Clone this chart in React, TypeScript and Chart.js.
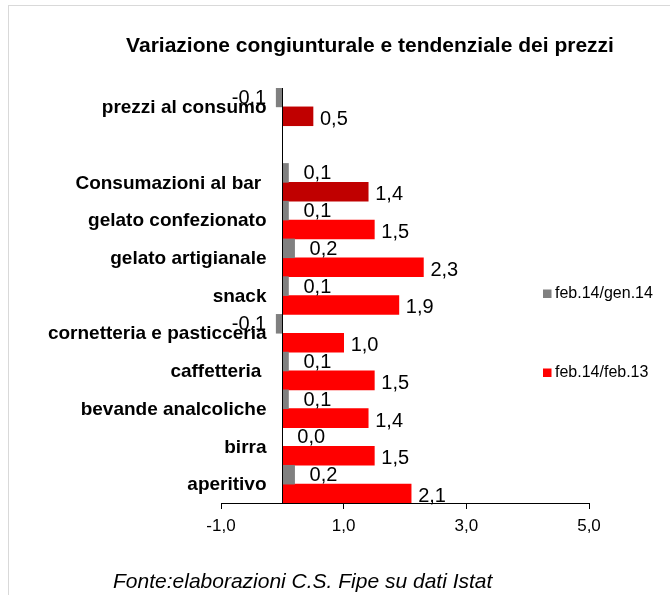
import React, { useEffect, useRef } from "react";
import { Chart, registerables } from "chart.js";

Chart.register(...registerables);

const chartTitle = "Variazione congiunturale e tendenziale dei prezzi";
const sourceNote = "Fonte:elaborazioni C.S. Fipe su dati Istat";
const categories = [
  "prezzi al consumo",
  "",
  "Consumazioni al bar ",
  "gelato confezionato",
  "gelato artigianale",
  "snack",
  "cornetteria e pasticceria",
  "caffetteria ",
  "bevande analcoliche",
  "birra",
  "aperitivo",
];
const seriesNames = ["feb.14/gen.14", "feb.14/feb.13"];
const congiunturale = [-0.1, null, 0.1, 0.1, 0.2, 0.1, -0.1, 0.1, 0.1, 0.0, 0.2];
const tendenziale = [0.5, null, 1.4, 1.5, 2.3, 1.9, 1.0, 1.5, 1.4, 1.5, 2.1];
const aggregateRows = ["prezzi al consumo", "Consumazioni al bar "];
const xMin = -1;
const xMax = 5;
const xStep = 2;

const GRAY = "#808080";
const RED = "#FF0000";
const DARK_RED = "#C00000";
const FONT = '"Liberation Sans", Arial, sans-serif';

const fmt = (v: number) => v.toFixed(1).replace(".", ",");

const overlay = {
  id: "overlay",
  afterDatasetsDraw(chart: any) {
    const { ctx, chartArea, scales } = chart;
    const xs = scales.x;
    const ys = scales.y;
    ctx.save();
    // zero line
    const x0 = Math.round(xs.getPixelForValue(0)) + 0.5;
    ctx.strokeStyle = "#000";
    ctx.lineWidth = 1;
    ctx.beginPath();
    ctx.moveTo(x0, chartArea.top);
    ctx.lineTo(x0, chartArea.bottom);
    ctx.stroke();

    // category labels
    ctx.font = `bold 19px ${FONT}`;
    ctx.fillStyle = "#000";
    ctx.textAlign = "right";
    ctx.textBaseline = "middle";
    categories.forEach((c, i) => {
      if (c) ctx.fillText(c, x0 - 16, ys.getPixelForValue(i) + 1);
    });

    // data labels
    ctx.font = `20px ${FONT}`;
    chart.data.datasets.forEach((ds: any, di: number) => {
      const meta = chart.getDatasetMeta(di);
      meta.data.forEach((el: any, i: number) => {
        const v = ds.data[i];
        if (v == null) return;
        const txt = fmt(v);
        if (di === 0) {
          if (v < 0) {
            ctx.textAlign = "right";
            ctx.fillText(txt, el.x - 10, el.y + 1);
          } else {
            ctx.textAlign = "left";
            ctx.fillText(txt, el.x + 15, el.y + 1);
          }
        } else {
          ctx.textAlign = "left";
          ctx.fillText(txt, el.x + 7, el.y + 3);
        }
      });
    });
    ctx.restore();
  },
  afterDraw(chart: any) {
    const { ctx } = chart;
    ctx.save();
    // title
    ctx.fillStyle = "#000";
    ctx.font = `bold 21px ${FONT}`;
    ctx.textAlign = "center";
    ctx.textBaseline = "alphabetic";
    ctx.fillText(chartTitle, 370, 51.5);

    // legend
    const legendColors = [GRAY, RED];
    const legendY = [294, 373];
    ctx.font = `16px ${FONT}`;
    ctx.textAlign = "left";
    ctx.textBaseline = "middle";
    seriesNames.forEach((n, i) => {
      ctx.fillStyle = legendColors[i];
      ctx.fillRect(543, legendY[i] - 4.5, 8.5, 8.5);
      ctx.fillStyle = "#000";
      ctx.fillText(n, 555, legendY[i]);
    });

    // source
    ctx.font = `italic 21px ${FONT}`;
    ctx.textBaseline = "alphabetic";
    ctx.fillText(sourceNote, 113, 588);
    ctx.restore();
  },
};

export default function App() {
  const ref = useRef<HTMLCanvasElement | null>(null);
  useEffect(() => {
    if (!ref.current) return;
    const chart = new Chart(ref.current, {
      type: "bar",
      data: {
        labels: categories,
        datasets: [
          {
            label: seriesNames[0],
            data: congiunturale as any,
            backgroundColor: GRAY,
            borderWidth: 0,
            barPercentage: 1,
            categoryPercentage: 1,
          },
          {
            label: seriesNames[1],
            data: tendenziale as any,
            backgroundColor: (c: any) =>
              aggregateRows.includes(categories[c.dataIndex]) ? DARK_RED : RED,
            borderWidth: 0,
            barPercentage: 1,
            categoryPercentage: 1,
          },
        ],
      },
      options: {
        indexAxis: "y",
        responsive: false,
        animation: false,
        devicePixelRatio: 1,
        layout: { padding: { left: 221, right: 81, top: 88, bottom: 52 } },
        plugins: {
          legend: { display: false },
          title: { display: false },
          tooltip: { enabled: false },
        },
        scales: {
          x: {
            min: xMin,
            max: xMax,
            afterFit: (s: any) => {
              s.height = 40;
            },
            afterBuildTicks: (s: any) => {
              const t = [];
              for (let v = xMin; v <= xMax + 1e-9; v += xStep) t.push({ value: v });
              s.ticks = t;
            },
            grid: {
              display: true,
              drawOnChartArea: false,
              drawTicks: true,
              tickLength: 6,
              color: "#000",
            },
            border: { display: true, color: "#000", width: 1 },
            ticks: {
              color: "#000",
              padding: 7,
              font: { family: FONT, size: 17 },
              callback: (v: any) => fmt(Number(v)),
            },
          },
          y: {
            display: false,
            grid: { display: false },
          },
        },
      } as any,
      plugins: [overlay],
    });
    return () => chart.destroy();
  }, []);

  return (
    <div
      style={{
        position: "absolute",
        left: 0,
        top: 0,
        width: 670,
        height: 595,
        overflow: "hidden",
        background: "#fff",
      }}
    >
      <div
        style={{
          position: "absolute",
          left: 8,
          top: 5,
          width: 700,
          height: 700,
          border: "1px solid #d9d9d9",
        }}
      />
      <canvas
        ref={ref}
        width={670}
        height={595}
        style={{ position: "absolute", left: 0, top: 0, width: 670, height: 595 }}
      />
    </div>
  );
}
